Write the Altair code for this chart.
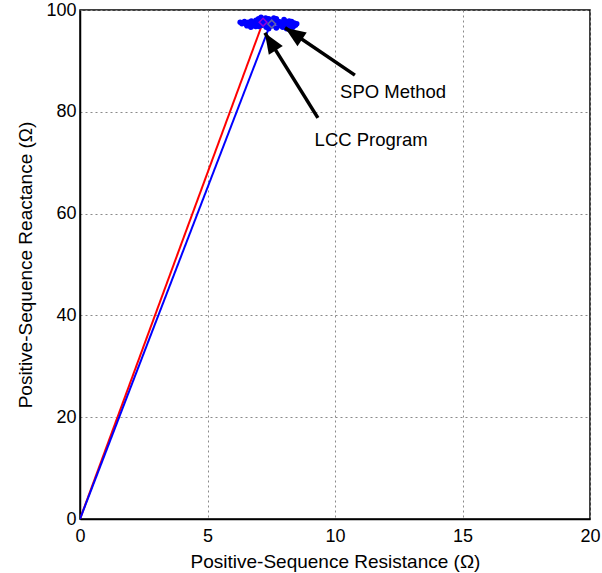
import altair as alt
import pandas as pd

FONT = "Liberation Sans"

# Lines (origin to end point)
red_x = [0.0, 7.16]
red_y = [0.0, 97.4]
blue_x = [0.0, 7.38]
blue_y = [0.0, 96.1]

# SPO scatter cloud
spo_x = [6.28, 6.35, 6.45, 6.52, 6.6, 6.66, 6.72, 6.8, 6.85, 6.9, 6.95, 7.0, 7.02, 7.08, 7.1,
         7.15, 7.2, 7.22, 7.28, 7.3, 7.35, 7.4, 7.42, 7.5, 7.55, 7.6, 7.65, 7.7, 7.75, 7.8,
         7.85, 7.9, 7.95, 8.0, 8.05, 8.1, 8.15, 8.2, 8.25, 8.3, 8.35, 8.4, 8.45, 8.5,
         6.7, 6.9, 7.05, 7.25, 7.45, 7.6, 7.85, 8.0, 8.2, 8.35,
         6.55, 6.8, 7.15, 7.4, 7.7, 7.95, 8.1, 8.3]
spo_y = [97.58, 97.3, 97.72, 97.16, 97.58, 97.02, 97.86, 97.44, 96.88, 98.0, 97.3, 98.28, 96.74, 97.58, 98.56,
         97.02, 98.14, 97.3, 98.42, 96.6, 97.72, 98.28, 97.16, 98.0, 96.88, 97.58, 98.14, 96.46, 97.44, 97.72,
         96.88, 97.58, 96.6, 97.3, 97.86, 96.88, 97.58, 96.6, 97.16, 97.72, 96.74, 97.44, 97.02, 97.3,
         96.6, 96.74, 97.16, 97.58, 96.74, 98.42, 97.16, 98.14, 97.86, 96.6,
         96.88, 97.58, 97.44, 96.32, 98.28, 97.02, 96.32, 97.02]

# Highlight markers
mark_x = [7.18, 7.52]
mark_y = [97.6, 97.25]
mark_col = ["#d000d0", "#888888"]

# Annotations
labels = ["SPO Method", "LCC Program"]
label_x = [10.2, 9.2]
label_y = [83.9, 74.5]
tail_x = [10.78, 9.33]
tail_y = [87.2, 78.8]
head_x = [8.04, 7.25]
head_y = [96.5, 95.5]
head_ang = [304, 328]

xs = alt.Scale(domain=[0, 20], nice=False, zero=False)
ys = alt.Scale(domain=[0, 100], nice=False, zero=False)

xax = alt.Axis(values=[0, 5, 10, 15, 20], title="Positive-Sequence Resistance (Ω)", format="d")
yax = alt.Axis(values=[0, 20, 40, 60, 80, 100], title="Positive-Sequence Reactance (Ω)", format="d")

base_x = alt.X("x:Q", scale=xs, axis=xax)
base_y = alt.Y("y:Q", scale=ys, axis=yax)

red_line = alt.Chart(pd.DataFrame({"x": red_x, "y": red_y})).mark_line(
    color="#ff0000", strokeWidth=2, clip=True).encode(x=base_x, y=base_y)
blue_line = alt.Chart(pd.DataFrame({"x": blue_x, "y": blue_y})).mark_line(
    color="#0000ff", strokeWidth=2, clip=True).encode(x=base_x, y=base_y)

spo = alt.Chart(pd.DataFrame({"x": spo_x, "y": spo_y})).mark_circle(
    color="#0000ff", size=30, opacity=1).encode(x=base_x, y=base_y)

marks = alt.Chart(pd.DataFrame({"x": mark_x, "y": mark_y, "c": mark_col})).mark_point(
    shape="diamond", filled=False, size=60, strokeWidth=1.5).encode(
    x=base_x, y=base_y, color=alt.Color("c:N", scale=None))

arrow_df = pd.DataFrame({"x": tail_x, "y": tail_y, "x2": head_x, "y2": head_y, "ang": head_ang})
shafts = alt.Chart(arrow_df).mark_rule(color="black", strokeWidth=3.5).encode(
    x=base_x, y=base_y, x2="x2:Q", y2="y2:Q")
heads = alt.Chart(arrow_df).mark_point(
    shape="M0,0L-0.4,1L0.4,1Z", filled=True, color="black", opacity=1, size=1700).encode(
    x=alt.X("x2:Q", scale=xs, axis=xax), y=alt.Y("y2:Q", scale=ys, axis=yax),
    angle=alt.Angle("ang:Q", scale=None))

text = alt.Chart(pd.DataFrame({"x": label_x, "y": label_y, "t": labels})).mark_text(
    align="left", baseline="middle", font=FONT, fontSize=18.5, color="black").encode(
    x=base_x, y=base_y, text="t:N")

chart = alt.layer(red_line, blue_line, spo, marks, shafts, heads, text).properties(
    width=510, height=509,
    autosize=alt.AutoSizeParams(type="none"),
    padding={"left": 80, "top": 10, "right": 12, "bottom": 54},
    background="white",
).configure_view(
    stroke="black", strokeWidth=1.5,
).configure_axis(
    labelFont=FONT, titleFont=FONT, labelFontSize=18, titleFontSize=19,
    labelColor="black", titleColor="black", titleFontWeight="normal",
    domain=True, domainColor="black", domainWidth=1.5,
    ticks=False, labelPadding=4, labelFlush=False,
    grid=True, gridColor="#8a8a8a", gridDash=[2, 3], gridWidth=1,
).configure_axisX(labelPadding=8, titlePadding=7).configure_axisY(titlePadding=10)

chart.save("out.html", embed_options={"renderer": "svg", "actions": False})
